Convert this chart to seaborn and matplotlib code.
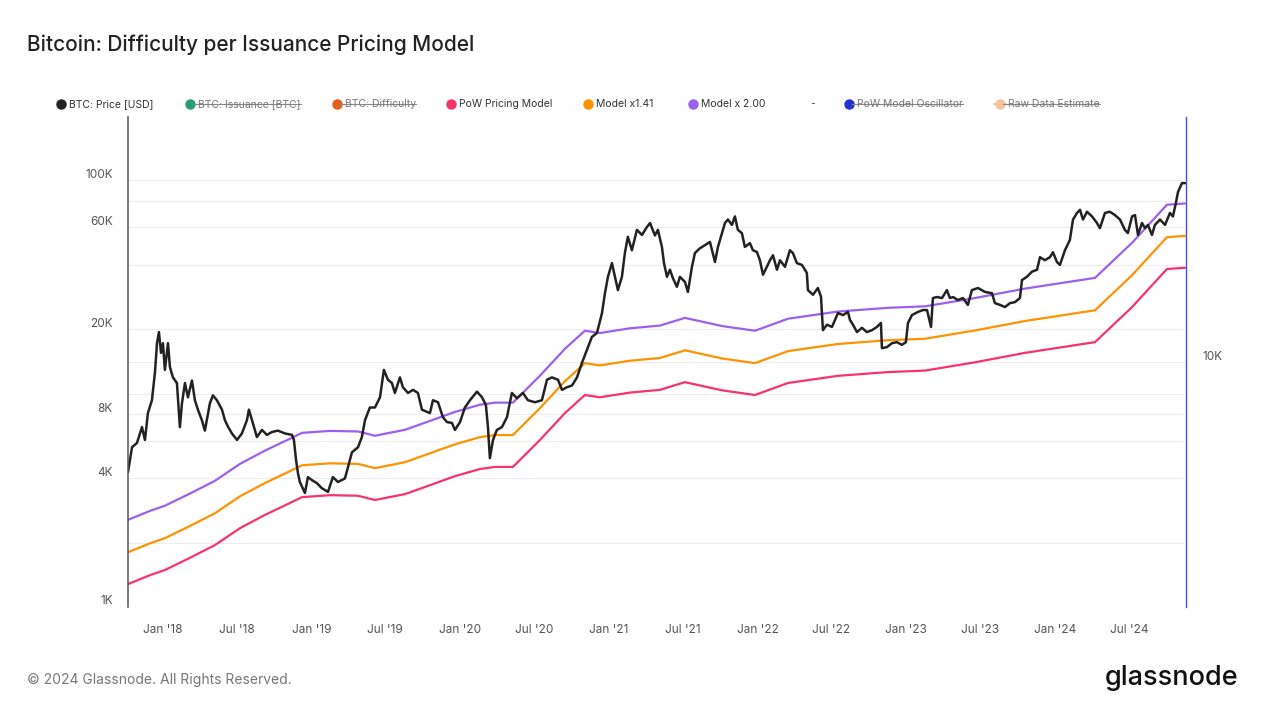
import numpy as np
import pandas as pd
import matplotlib
matplotlib.use("Agg")
import matplotlib.pyplot as plt
import seaborn as sns
from matplotlib.lines import Line2D
from matplotlib.transforms import ScaledTranslation

# ---------------- data (decimal years, USD) ----------------
price_t = [
    2017.765, 2017.792, 2017.825, 2017.859, 2017.879, 2017.899, 2017.926, 2017.946, 2017.960, 2017.973,
    2017.987, 2018.000, 2018.013, 2018.034, 2018.047, 2018.067, 2018.094, 2018.114, 2018.128, 2018.148,
    2018.168, 2018.195, 2018.215, 2018.235, 2018.262, 2018.282, 2018.316, 2018.336, 2018.363, 2018.397,
    2018.417, 2018.437, 2018.464, 2018.498, 2018.531, 2018.565, 2018.578, 2018.599, 2018.632, 2018.666,
    2018.699, 2018.733, 2018.773, 2018.821, 2018.868, 2018.881, 2018.895, 2018.908, 2018.921, 2018.955,
    2018.975, 2019.002, 2019.036, 2019.069, 2019.110, 2019.143, 2019.177, 2019.224, 2019.244, 2019.271,
    2019.312, 2019.338, 2019.359, 2019.392, 2019.426, 2019.460, 2019.486, 2019.513, 2019.540, 2019.560,
    2019.594, 2019.614, 2019.648, 2019.682, 2019.715, 2019.742, 2019.776, 2019.796, 2019.816, 2019.850,
    2019.883, 2019.910, 2019.944, 2019.964, 2019.998, 2020.031, 2020.065, 2020.112, 2020.146, 2020.172,
    2020.186, 2020.199, 2020.220, 2020.246, 2020.280, 2020.314, 2020.347, 2020.381, 2020.421, 2020.455,
    2020.502, 2020.549, 2020.583, 2020.616, 2020.657, 2020.684, 2020.717, 2020.751, 2020.785, 2020.818,
    2020.852, 2020.885, 2020.919, 2020.953, 2020.973, 2020.993, 2021.020, 2021.040, 2021.060, 2021.087,
    2021.107, 2021.127, 2021.154, 2021.188, 2021.222, 2021.255, 2021.276, 2021.309, 2021.329, 2021.356,
    2021.370, 2021.390, 2021.410, 2021.430, 2021.457, 2021.477, 2021.511, 2021.531, 2021.558, 2021.578,
    2021.612, 2021.645, 2021.679, 2021.713, 2021.733, 2021.760, 2021.780, 2021.800, 2021.827, 2021.847,
    2021.867, 2021.894, 2021.914, 2021.948, 2021.968, 2021.995, 2022.015, 2022.036, 2022.062, 2022.083,
    2022.103, 2022.130, 2022.150, 2022.184, 2022.217, 2022.237, 2022.264, 2022.298, 2022.331, 2022.338,
    2022.372, 2022.405, 2022.426, 2022.439, 2022.466, 2022.500, 2022.520, 2022.540, 2022.574, 2022.607,
    2022.621, 2022.641, 2022.668, 2022.701, 2022.735, 2022.769, 2022.802, 2022.829, 2022.836, 2022.870,
    2022.903, 2022.937, 2022.970, 2022.997, 2023.011, 2023.038, 2023.078, 2023.112, 2023.139, 2023.166,
    2023.179, 2023.206, 2023.240, 2023.273, 2023.293, 2023.314, 2023.347, 2023.381, 2023.414, 2023.441,
    2023.482, 2023.529, 2023.576, 2023.596, 2023.630, 2023.663, 2023.697, 2023.731, 2023.764, 2023.778,
    2023.811, 2023.845, 2023.879, 2023.899, 2023.932, 2023.966, 2023.986, 2024.013, 2024.033, 2024.067,
    2024.100, 2024.121, 2024.148, 2024.168, 2024.188, 2024.215, 2024.249, 2024.282, 2024.302, 2024.336,
    2024.369, 2024.403, 2024.437, 2024.470, 2024.490, 2024.518, 2024.538, 2024.558, 2024.585, 2024.605,
    2024.625, 2024.652, 2024.672, 2024.706, 2024.740, 2024.773, 2024.793, 2024.813, 2024.827, 2024.854,
    2024.874,
]
price_usd = [
    4290, 5600, 5860, 6960, 6060, 8100, 9300, 12500, 17200, 19400,
    15500, 17200, 12900, 17200, 13300, 11900, 11200, 6960, 9000, 11200,
    9600, 11500, 9300, 8400, 7500, 6700, 9000, 9800, 9300, 8400,
    7500, 7000, 6500, 6060, 6500, 7500, 8400, 7500, 6250, 6750,
    6400, 6600, 6700, 6500, 6400, 6060, 4900, 4240, 3850, 3420,
    4060, 3930, 3800, 3600, 3460, 4060, 3850, 4000, 4500, 5300,
    5600, 6250, 7500, 8600, 8600, 9600, 12900, 11600, 11200, 10060,
    11900, 10700, 10060, 10400, 10060, 8400, 8200, 8100, 9300, 9100,
    7750, 7350, 7280, 6750, 7350, 8600, 9300, 10200, 9600, 8850,
    6960, 4980, 6060, 6750, 6960, 7750, 10060, 9500, 10060, 9300,
    9100, 9300, 11600, 11900, 11600, 10400, 10700, 10900, 11900, 13900,
    16000, 18400, 19200, 23800, 29500, 35200, 40800, 35200, 30500, 35200,
    45500, 54200, 46900, 58400, 55300, 60200, 62900, 55000, 58400, 48600,
    40800, 35200, 38000, 34700, 31600, 35200, 33300, 29900, 39200, 45500,
    47900, 49500, 51300, 41300, 48600, 56400, 62900, 65300, 61600, 67500,
    58400, 56400, 48600, 50600, 46900, 46000, 42100, 36000, 39200, 42100,
    44400, 38000, 42100, 39200, 46900, 45500, 40800, 40000, 36700, 30500,
    29000, 31200, 28400, 19800, 21000, 20500, 22100, 23800, 23300, 24100,
    22100, 21000, 19400, 20300, 19400, 19800, 20500, 21400, 16300, 16500,
    17200, 17400, 16900, 17400, 21400, 23300, 24100, 24600, 24600, 20500,
    28000, 28300, 28000, 30500, 28000, 28300, 27400, 28000, 26000, 30500,
    31200, 29900, 29500, 26500, 26000, 25400, 26500, 26800, 28000, 34000,
    35200, 37200, 38000, 43500, 42100, 43500, 45900, 41300, 40000, 46900,
    52400, 65300, 70100, 72500, 65300, 71000, 67500, 62900, 59500, 70100,
    71000, 68500, 65300, 58400, 56400, 67500, 68500, 55300, 62900, 59500,
    61600, 55300, 61600, 65300, 61600, 70100, 67500, 78100, 87800, 96700,
    96700,
]

model_t = [
    2017.765, 2017.913, 2018.013, 2018.182, 2018.350, 2018.518, 2018.686, 2018.854, 2018.935, 2019.123,
    2019.312, 2019.426, 2019.628, 2019.796, 2019.964, 2020.132, 2020.233, 2020.354, 2020.536, 2020.704,
    2020.838, 2020.939, 2021.141, 2021.343, 2021.511, 2021.760, 2021.982, 2022.204, 2022.540, 2022.877,
    2023.125, 2023.462, 2023.798, 2024.269, 2024.518, 2024.753, 2024.874,
]
pow_model = [
    1280, 1410, 1490, 1700, 1950, 2340, 2700, 3070, 3270, 3340,
    3320, 3170, 3380, 3720, 4100, 4430, 4530, 4530, 6060, 8100,
    9840, 9600, 10100, 10400, 11300, 10350, 9840, 11200, 12100, 12600,
    12800, 14000, 15500, 17400, 25400, 38300, 38800,
]
mult_mid = 1.41
mult_high = 2.00

x_tick_labels = ["Jan '18", "Jul '18", "Jan '19", "Jul '19", "Jan '20", "Jul '20", "Jan '21",
                 "Jul '21", "Jan '22", "Jul '22", "Jan '23", "Jul '23", "Jan '24", "Jul '24"]
y_grid_values = [1e3, 2e3, 4e3, 6e3, 8e3, 1e4, 2e4, 4e4, 6e4, 8e4, 1e5]
y_tick_labels = ["1K", "", "4K", "", "8K", "", "20K", "", "60K", "", "100K"]

legend_items = [
    ("BTC: Price [USD]", "#222222", False),
    ("BTC: Issuance [BTC]", "#2a9d74", True),
    ("BTC: Difficulty", "#e4601c", True),
    ("PoW Pricing Model", "#f8336a", False),
    ("Model x1.41", "#ff9200", False),
    ("Model x 2.00", "#9b60ee", False),
    ("-", None, False),
    ("PoW Model Oscillator", "#2633c8", True),
    ("Raw Data Estimate", "#f6c49a", True),
]
legend_x_px = [61, 190, 337, 451, 588, 693, 810, 849, 1000]


def to_dt(t):
    t = np.asarray(t, dtype=float)
    return pd.Timestamp("2018-01-01") + pd.to_timedelta((t - 2018.0) * 365.25, unit="D")


price_df = pd.DataFrame({"date": to_dt(price_t), "value": price_usd})
model_df = pd.DataFrame({"date": to_dt(model_t), "value": pow_model})
mid_df = pd.DataFrame({"date": to_dt(model_t), "value": np.array(pow_model) * mult_mid})
high_df = pd.DataFrame({"date": to_dt(model_t), "value": np.array(pow_model) * mult_high})

# ---------------- figure ----------------
sns.set_theme(style="white")
plt.rcParams["font.family"] = ["Inter", "DejaVu Sans"]

W, H = 1265, 712
fig = plt.figure(figsize=(W / 100, H / 100), dpi=100)
fig.patch.set_facecolor("white")

ax_l, ax_r, ax_b, ax_t = 128, 1186, 607, 117
rect = [ax_l / W, 1 - ax_b / H, (ax_r - ax_l) / W, (ax_b - ax_t) / H]

# right (oscillator) axis behind main axis
ax2 = fig.add_axes(rect)
ax = fig.add_axes(rect)
ax2.set_zorder(0)
ax.set_zorder(1)
ax.patch.set_visible(False)

ax2.set_ylim(0, 20000)
ax2.set_yticks([10000])
ax2.set_yticklabels(["10K"])
ax2.yaxis.tick_right()
ax2.set_xticks([])
ax2.grid(axis="y", color="#ededed", lw=0.8)
for s in ["left", "top", "bottom"]:
    ax2.spines[s].set_visible(False)
ax2.spines["right"].set_color("#4a4ae6")
ax2.spines["right"].set_linewidth(1.0)
ax2.tick_params(axis="y", length=0, pad=12, labelsize=8.5, labelcolor="#555555")

sns.lineplot(data=model_df, x="date", y="value", ax=ax, color="#f8336a", lw=1.6)
sns.lineplot(data=mid_df, x="date", y="value", ax=ax, color="#ff9200", lw=1.6)
sns.lineplot(data=high_df, x="date", y="value", ax=ax, color="#9b60ee", lw=1.6)
sns.lineplot(data=price_df, x="date", y="value", ax=ax, color="#222222", lw=1.8)

ax.set_yscale("log")
ax.set_ylim(1000, 10 ** (3 + (ax_b - ax_t) / 213.5))
ax.set_yticks(y_grid_values)
ax.set_yticklabels(y_tick_labels)
ax.yaxis.set_minor_locator(matplotlib.ticker.NullLocator())
ax.grid(axis="y", color="#ededed", lw=0.8)
ax.grid(axis="x", visible=False)
ax.set_xlabel("")
ax.set_ylabel("")

ax.set_xlim(to_dt([2017.765])[0], to_dt([2024.881])[0])
x_ticks = pd.date_range("2018-01-01", "2024-07-01", freq="6MS")
ax.set_xticks(x_ticks)
ax.set_xticklabels(x_tick_labels)
ax.tick_params(axis="x", length=6, width=0.8, color="#dddddd", pad=6,
               labelsize=8.5, labelcolor="#555555")
ax.tick_params(axis="y", length=0, pad=11, labelsize=8.5, labelcolor="#555555")

for s in ["top", "right", "bottom"]:
    ax.spines[s].set_visible(False)
ax.spines["left"].set_color("#555555")
ax.spines["left"].set_linewidth(1.1)

off = ScaledTranslation(0, 7 / 100, fig.dpi_scale_trans)
for lab in ax.get_yticklabels() + ax2.get_yticklabels():
    lab.set_transform(lab.get_transform() + off)

# ---------------- title, legend, footer ----------------
fig.text(27 / W, 1 - 45 / H, "Bitcoin: Difficulty per Issuance Pricing Model",
         fontsize=15, color="#222222", va="center", ha="left", fontweight="medium")

ly = 1 - 104 / H
texts = []
for (label, col, struck), xpx in zip(legend_items, legend_x_px):
    if col is None:
        t = fig.text(xpx / W, ly, label, fontsize=7.5, color="#555555", va="center", ha="left")
        texts.append((t, xpx, False))
        continue
    if label == "Raw Data Estimate":
        fig.add_artist(Line2D([(xpx - 6) / W, (xpx + 6) / W], [ly, ly], color=col, lw=1.5,
                              transform=fig.transFigure))
    fig.add_artist(Line2D([xpx / W], [ly], marker="o", markersize=6.5, color=col, lw=0,
                          transform=fig.transFigure))
    t = fig.text((xpx + 8) / W, ly, label, fontsize=7.5,
                 color="#777777" if struck else "#333333", va="center", ha="left")
    texts.append((t, xpx, struck))

fig.canvas.draw()
r = fig.canvas.get_renderer()
inv = fig.transFigure.inverted()
for t, xpx, struck in texts:
    if struck:
        bb = t.get_window_extent(renderer=r)
        x1 = inv.transform((bb.x1, bb.y0))[0]
        fig.add_artist(Line2D([(xpx + 3) / W, x1], [ly, ly], color="#888888", lw=0.8,
                              transform=fig.transFigure))

fig.text(27 / W, 1 - 680 / H, "© 2024 Glassnode. All Rights Reserved.",
         fontsize=10, color="#777777", va="center", ha="left")
fig.text(1238 / W, 1 - 678 / H, "glassnode", fontsize=19.5, color="#111111",
         va="center", ha="right", fontweight="medium")

fig.savefig("out.png", dpi=100, facecolor="white")
